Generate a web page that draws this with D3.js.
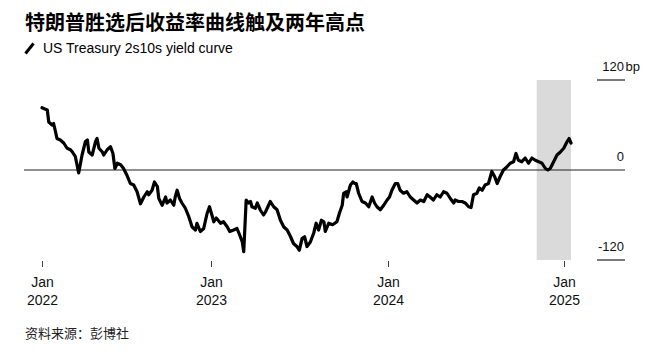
<!DOCTYPE html>
<html><head><meta charset="utf-8">
<script src="https://cdn.jsdelivr.net/npm/d3@7"></script>
<style>body{margin:0;background:#fff}</style>
</head><body><svg id="c" width="661" height="358"></svg>
<script>
const dates = ["2022-01-15","2022-01-26","2022-01-29","2022-02-05","2022-02-08","2022-02-12","2022-02-15","2022-02-22","2022-03-01","2022-03-08","2022-03-15","2022-03-19","2022-03-25","2022-04-01","2022-04-08","2022-04-15","2022-04-19","2022-04-22","2022-04-29","2022-05-06","2022-05-09","2022-05-13","2022-05-20","2022-05-23","2022-05-30","2022-06-06","2022-06-11","2022-06-15","2022-06-20","2022-06-27","2022-07-03","2022-07-10","2022-07-17","2022-07-24","2022-07-31","2022-08-07","2022-08-14","2022-08-21","2022-08-24","2022-08-31","2022-09-05","2022-09-11","2022-09-14","2022-09-21","2022-09-28","2022-10-01","2022-10-08","2022-10-15","2022-10-18","2022-10-22","2022-10-27","2022-11-01","2022-11-08","2022-11-15","2022-11-22","2022-11-29","2022-12-02","2022-12-09","2022-12-16","2022-12-23","2022-12-28","2023-01-02","2023-01-06","2023-01-11","2023-01-20","2023-01-26","2023-02-03","2023-02-08","2023-02-16","2023-02-23","2023-03-02","2023-03-06","2023-03-09","2023-03-14","2023-03-19","2023-03-23","2023-03-26","2023-04-02","2023-04-06","2023-04-12","2023-04-19","2023-04-23","2023-04-28","2023-05-03","2023-05-10","2023-05-17","2023-05-24","2023-05-31","2023-06-07","2023-06-14","2023-06-20","2023-06-27","2023-07-02","2023-07-08","2023-07-13","2023-07-18","2023-07-25","2023-08-01","2023-08-06","2023-08-11","2023-08-17","2023-08-22","2023-08-25","2023-09-01","2023-09-09","2023-09-18","2023-09-23","2023-09-29","2023-10-02","2023-10-07","2023-10-09","2023-10-16","2023-10-21","2023-10-25","2023-10-28","2023-11-02","2023-11-09","2023-11-16","2023-11-23","2023-11-30","2023-12-05","2023-12-10","2023-12-17","2023-12-24","2023-12-31","2024-01-05","2024-01-10","2024-01-17","2024-01-22","2024-01-27","2024-02-03","2024-02-10","2024-02-17","2024-02-24","2024-03-02","2024-03-09","2024-03-16","2024-03-23","2024-03-29","2024-04-05","2024-04-12","2024-04-19","2024-04-26","2024-05-03","2024-05-10","2024-05-17","2024-05-20","2024-05-27","2024-06-03","2024-06-10","2024-06-17","2024-06-22","2024-06-27","2024-07-04","2024-07-09","2024-07-15","2024-07-21","2024-07-28","2024-08-04","2024-08-10","2024-08-15","2024-08-21","2024-08-28","2024-09-04","2024-09-11","2024-09-18","2024-09-23","2024-09-28","2024-10-05","2024-10-12","2024-10-19","2024-10-26","2024-11-02","2024-11-09","2024-11-16","2024-11-23","2024-11-28","2024-12-03","2024-12-10","2024-12-17","2024-12-24","2024-12-31","2025-01-07","2025-01-11","2025-01-15"];
const values = [83,80,64,60,62,51,42,40,36,29,27,24,18,-4,20,38,40,24,20,38,42,29,24,20,27,31,22,2,9,7,2,-7,-18,-20,-29,-45,-36,-29,-33,-27,-16,-22,-38,-47,-36,-44,-40,-47,-36,-27,-38,-44,-51,-62,-76,-80,-71,-82,-78,-58,-49,-60,-69,-64,-71,-69,-76,-82,-80,-78,-89,-96,-109,-40,-44,-42,-49,-51,-44,-53,-60,-56,-49,-42,-49,-53,-67,-76,-80,-89,-98,-102,-107,-91,-89,-102,-96,-84,-71,-80,-67,-69,-82,-71,-73,-69,-58,-47,-31,-29,-36,-20,-16,-18,-18,-31,-42,-44,-49,-36,-44,-49,-53,-47,-40,-36,-27,-18,-18,-27,-31,-29,-36,-40,-44,-40,-42,-33,-36,-40,-33,-36,-29,-31,-38,-44,-40,-42,-42,-44,-49,-50,-33,-31,-24,-27,-20,-18,-2,-9,-18,-9,0,4,9,11,22,13,11,16,9,16,13,11,9,2,0,2,11,20,24,29,38,42,36];
const yTicks = [120, 0, -120];
const yTickLabels = ["120", "0", "-120"];
const xTickDates = ["2022-01-15","2023-01-01","2024-01-01","2025-01-01"];
const xTickMonths = ["Jan","Jan","Jan","Jan"];
const xTickYears = ["2022","2023","2024","2025"];
const highlightRange = ["2024-11-05","2025-01-15"];
const title = "特朗普胜选后收益率曲线触及两年高点";
const legendLabel = "US Treasury 2s10s yield curve";
const source = "资料来源：彭博社";

const parse = d3.timeParse("%Y-%m-%d");
const data = dates.map((d,i)=>({date: parse(d), value: values[i]}));
const svg = d3.select("#c");
const latin = "'Liberation Sans', Arial, Helvetica, sans-serif";
const cjk = "'Noto Sans CJK SC', 'Noto Sans', sans-serif";

const x = d3.scaleTime().domain([data[0].date, data[data.length-1].date]).range([42, 571]);
const y = d3.scaleLinear().domain([-120, 120]).range([260, 80]);

// title
svg.append("text").attr("x", 25).attr("y", 30).text(title)
  .style("font-family", cjk).style("font-weight", "700").style("font-size", "20px").attr("fill", "#000");
// legend
svg.append("line").attr("x1", 25.5).attr("y1", 53.5).attr("x2", 33.5).attr("y2", 43.5)
  .attr("stroke", "#000").attr("stroke-width", 3);
svg.append("text").attr("x", 43).attr("y", 53).text(legendLabel)
  .style("font-family", latin).style("font-size", "14px").attr("fill", "#000");

// highlight band
svg.append("rect")
  .attr("x", x(parse(highlightRange[0])))
  .attr("width", x(parse(highlightRange[1])) - x(parse(highlightRange[0])))
  .attr("y", y(120)).attr("height", y(-120) - y(120))
  .attr("fill", "#dadada");

// y ticks (right)
const yg = svg.append("g");
yTicks.forEach((t,i)=>{
  if (t === 0) {
    yg.append("line").attr("x1", 24).attr("x2", 625).attr("y1", y(0)).attr("y2", y(0))
      .attr("stroke", "#222").attr("stroke-width", 1.2);
  } else {
    yg.append("line").attr("x1", 597).attr("x2", 625).attr("y1", y(t)).attr("y2", y(t))
      .attr("stroke", "#222").attr("stroke-width", 1.2);
  }
  yg.append("text").attr("x", 624).attr("y", y(t) - 9).attr("text-anchor", "end")
    .style("font-family", latin).style("font-size", "13px").attr("fill", "#111").text(yTickLabels[i]);
  if (i === 0) {
    yg.append("text").attr("x", 625.5).attr("y", y(t) - 9)
      .style("font-family", latin).style("font-size", "13px").attr("fill", "#111").text("bp");
  }
});

// x ticks
const xg = svg.append("g");
xTickDates.forEach((d,i)=>{
  const px = Math.round(x(parse(d))) + 0.5;
  xg.append("line").attr("x1", px).attr("x2", px).attr("y1", 261).attr("y2", 267)
    .attr("stroke", "#444").attr("stroke-width", 1);
  xg.append("text").attr("x", px).attr("y", 287).attr("text-anchor", "middle")
    .style("font-family", latin).style("font-size", "14px").attr("fill", "#111").text(xTickMonths[i]);
  xg.append("text").attr("x", px).attr("y", 305).attr("text-anchor", "middle")
    .style("font-family", latin).style("font-size", "14px").attr("fill", "#111").text(xTickYears[i]);
});

// line
const line = d3.line().x(d=>x(d.date)).y(d=>y(d.value));
svg.append("path").datum(data).attr("d", line).attr("fill", "none")
  .attr("stroke", "#000").attr("stroke-width", 3.2).attr("stroke-linejoin", "round").attr("stroke-linecap", "round");

// source
svg.append("text").attr("x", 25).attr("y", 338).text(source)
  .style("font-family", cjk).style("font-size", "13px").attr("fill", "#222");
</script>
</body></html>
